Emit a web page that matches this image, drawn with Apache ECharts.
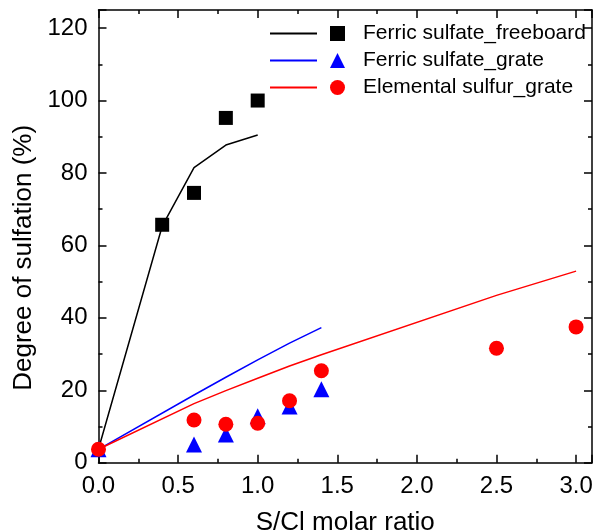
<!DOCTYPE html>
<html>
<head>
<meta charset="utf-8">
<script src="https://cdn.jsdelivr.net/npm/echarts@6/dist/echarts.min.js"></script>
<style>
  html, body { margin: 0; padding: 0; background: #fff; }
  #chart { width: 594px; height: 531px; }
</style>
</head>
<body>
<div id="chart"></div>
<script>
// Degree of sulfation versus S/Cl molar ratio: measured points and model curves.
const seriesNames = ['Ferric sulfate_freeboard', 'Ferric sulfate_grate', 'Elemental sulfur_grate'];

// Measured points [S/Cl, %]
const ferricFreeboardPts = [[0.4, 65.7], [0.6, 74.5], [0.8, 95.2], [1.0, 100.0]];
const ferricGratePts = [[0.0, 3.7], [0.6, 5.0], [0.8, 7.8], [1.0, 12.8], [1.2, 15.5], [1.4, 20.3]];
const sulfurGratePts = [[0.0, 3.7], [0.6, 11.8], [0.8, 10.6], [1.0, 10.9], [1.2, 17.1], [1.4, 25.4], [2.5, 31.6], [3.0, 37.5]];

// Model curves [S/Cl, %]
const ferricFreeboardCurve = [[0.0, 3.8], [0.4, 65.3], [0.6, 81.5], [0.8, 87.7], [1.0, 90.5]];
const ferricGrateCurve = [[0.0, 3.7], [0.6, 18.7], [0.8, 23.6], [1.0, 28.4], [1.2, 33.0], [1.4, 37.3]];
const sulfurGrateCurve = [[0.0, 3.7], [0.6, 16.3], [0.8, 19.9], [1.0, 23.3], [1.2, 26.7], [1.4, 29.8], [2.5, 46.2], [3.0, 52.9]];

const colors = ['#000000', '#0000ff', '#ff0000'];
const symbols = ['rect', 'triangle', 'circle'];
const symbolSizes = [14, 16, 15];
const curveNames = seriesNames.map(n => n + ' (model)');

const FONT = '"Liberation Sans", Arial, sans-serif';

const chart = echarts.init(document.getElementById('chart'), null, { renderer: 'canvas' });

const axisCommon = {
  type: 'value',
  axisLine: { show: true, onZero: false, lineStyle: { color: '#000', width: 1.5 } },
  axisTick: { show: true, inside: true, length: 8, lineStyle: { color: '#000', width: 1.5 } },
  minorTick: { show: true, splitNumber: 2, length: 4, lineStyle: { color: '#000', width: 1.5 } },
  splitLine: { show: false },
  minorSplitLine: { show: false }
};

const xBase = Object.assign({}, axisCommon, { min: 0, max: 3.1, interval: 0.5 });
const yBase = Object.assign({}, axisCommon, { min: 0, max: 125, interval: 20 });

const curves = [ferricFreeboardCurve, ferricGrateCurve, sulfurGrateCurve];
const points = [ferricFreeboardPts, ferricGratePts, sulfurGratePts];

const series = [];
curves.forEach((data, i) => {
  series.push({
    name: curveNames[i],
    type: 'line',
    data: data,
    symbol: 'none',
    lineStyle: { color: colors[i], width: 1.5 },
    itemStyle: { color: colors[i] },
    z: 2,
    animation: false
  });
});
points.forEach((data, i) => {
  series.push({
    name: seriesNames[i],
    type: 'scatter',
    data: data,
    symbol: symbols[i],
    symbolSize: symbolSizes[i],
    itemStyle: { color: colors[i], opacity: 1 },
    z: 3 + i,
    animation: false
  });
});

chart.setOption({
  backgroundColor: '#fff',
  animation: false,
  grid: { left: 98.5, right: 2, top: 10, bottom: 68.3, containLabel: false, outerBoundsMode: 'none' },
  legend: [
    {
      data: curveNames,
      orient: 'vertical',
      left: 269, top: 23,
      padding: 0,
      itemWidth: 47, itemHeight: 14, itemGap: 6,
      selectedMode: false,
      formatter: () => ' ',
      itemStyle: { opacity: 0 },
      textStyle: { fontSize: 21, fontFamily: FONT, color: '#000' }
    },
    {
      data: seriesNames,
      orient: 'vertical',
      left: 330, top: 23,
      padding: 0,
      itemWidth: 15, itemHeight: 15, itemGap: 6,
      selectedMode: false,
      textStyle: { fontSize: 21, fontFamily: FONT, color: '#000', padding: [0, 0, 0, 13] }
    }
  ],
  xAxis: [
    Object.assign({}, xBase, {
      position: 'bottom',
      name: 'S/Cl molar ratio',
      nameLocation: 'middle',
      nameGap: 47,
      nameTextStyle: { fontSize: 26, fontFamily: FONT, color: '#000' },
      axisLabel: {
        fontSize: 24, fontFamily: FONT, color: '#000', margin: 12,
        showMaxLabel: false,
        formatter: v => v.toFixed(1)
      }
    }),
    Object.assign({}, xBase, { position: 'top', axisLabel: { show: false } })
  ],
  yAxis: [
    Object.assign({}, yBase, {
      position: 'left',
      name: 'Degree of sulfation (%)',
      nameLocation: 'middle',
      nameGap: 62,
      nameTextStyle: { fontSize: 26, fontFamily: FONT, color: '#000', padding: [0, 43, 0, 0] },
      axisLabel: {
        fontSize: 24, fontFamily: FONT, color: '#000', margin: 11,
        showMaxLabel: false, verticalAlign: 'middle'
      }
    }),
    Object.assign({}, yBase, { position: 'right', axisLabel: { show: false } })
  ],
  series: series
});
</script>
</body>
</html>
